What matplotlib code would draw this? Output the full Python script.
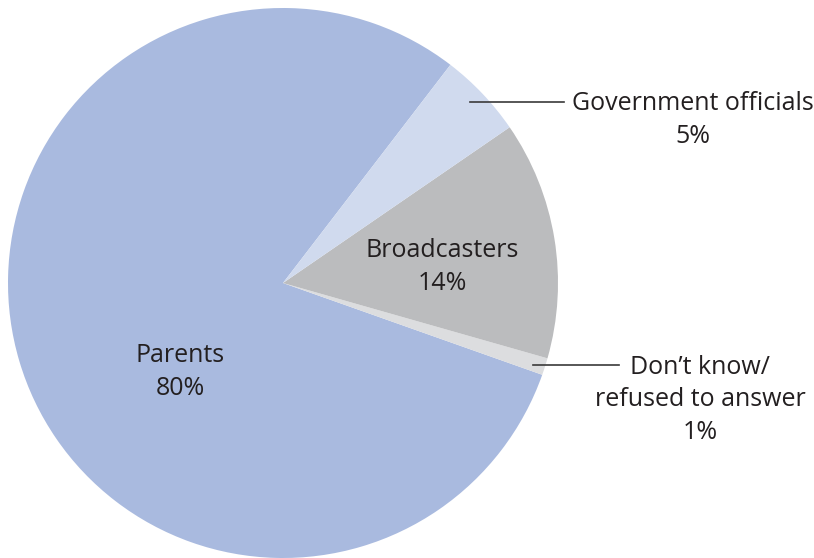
import matplotlib
matplotlib.use("Agg")
import matplotlib.pyplot as plt

categories = ["Parents", "Don\u2019t know/\nrefused to answer", "Broadcasters", "Government officials"]
values = [80, 1, 14, 5]
pct_labels = ["80%", "1%", "14%", "5%"]
colors = ["#a9badf", "#dcdddf", "#bbbcbe", "#d0daee"]

plt.rcParams['font.family'] = ['Open Sans', 'DejaVu Sans']
fig = plt.figure(figsize=(8.14, 5.58), dpi=100)
ax = fig.add_axes([0, 0, 1, 1])

cx, cy, r = 283, 275, 275
wedges, _ = ax.pie(values, colors=colors, startangle=52.5, counterclock=True,
                   center=(cx, cy), radius=r, frame=True,
                   wedgeprops=dict(linewidth=0))
ax.set_xlim(0, 814)
ax.set_ylim(0, 558)
ax.axis('off')

tc = "#231f20"
fs = 18
ls = 1.42
# inside labels
ax.text(180, 558 - 372, f"{categories[0]}\n{pct_labels[0]}", ha='center', va='center',
        fontsize=fs, color=tc, linespacing=ls)
ax.text(442, 558 - 267, f"{categories[2]}\n{pct_labels[2]}", ha='center', va='center',
        fontsize=fs, color=tc, linespacing=ls)
# outside labels with leader lines
ax.plot([470, 564], [558 - 102, 558 - 102], color="#3a3a3a", lw=1.2)
ax.text(693, 558 - 120, f"{categories[3]}\n{pct_labels[3]}", ha='center', va='center',
        fontsize=fs, color=tc, linespacing=ls)
ax.plot([533, 619], [558 - 365, 558 - 365], color="#3a3a3a", lw=1.2)
ax.text(700, 558 - 400, f"{categories[1]}\n{pct_labels[1]}", ha='center', va='center',
        fontsize=fs, color=tc, linespacing=ls)

fig.savefig("out.png", dpi=100)
